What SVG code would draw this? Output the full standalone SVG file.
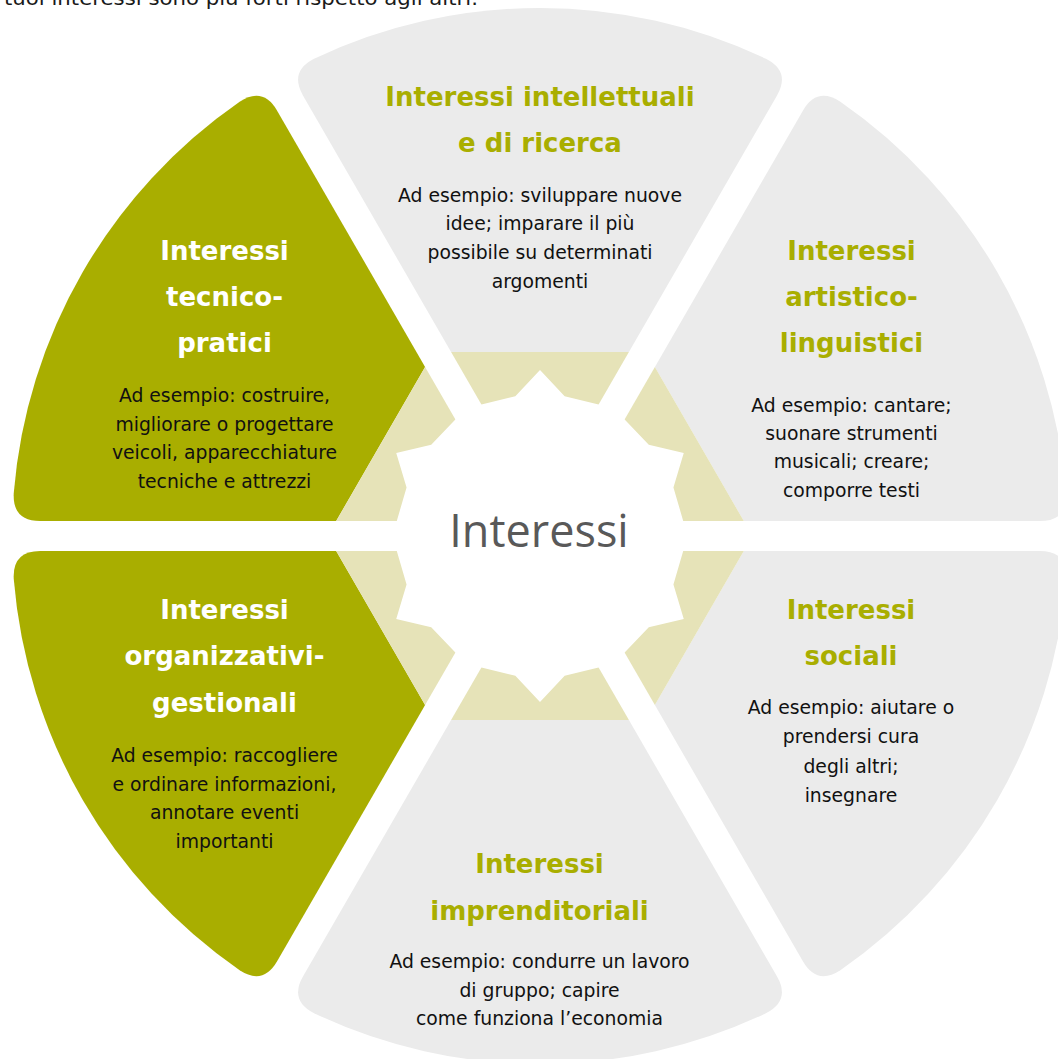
<svg xmlns="http://www.w3.org/2000/svg" xmlns:xlink="http://www.w3.org/1999/xlink" width="1058" height="1059" viewBox="0 0 1058 1059">
<defs>
<style>
.gray{fill:#EBEBEB}
.green{fill:#A9AE00}
.khaki{fill:#E6E3B8}
.title{font-family:"DejaVu Sans",Verdana,sans-serif;font-weight:bold;font-size:26px;text-anchor:middle}
.tg{fill:#A9AE00}
.tw{fill:#FFFFFF}
.body{font-family:"DejaVu Sans",Verdana,sans-serif;font-size:18.8px;text-anchor:middle;fill:#111111}
.hubtext{font-family:"Open Sans","Noto Sans",sans-serif;font-size:45px;text-anchor:middle;fill:#595959}
</style>
<path id="sec" d="M184,88.91 L440.33,236.91 Q464.58,250.91 477.24,225.9 A528,528 0 0 0 477.24,-225.9 Q464.58,-250.91 440.33,-236.91 L184,-88.91 Z"/>
<path id="tri" d="M30,0 L184,88.91 L184,-88.91 Z"/>
</defs>
<rect x="0" y="0" width="1058" height="1059" fill="#FFFFFF"/>
<text x="4" y="5" font-family="'DejaVu Sans',Verdana,sans-serif" font-size="20" fill="#1A1A1A" textLength="474" lengthAdjust="spacingAndGlyphs">tuoi interessi sono più forti rispetto agli altri.</text>

<g id="node-tecnico-pratici">
<use xlink:href="#sec" class="green" transform="translate(540,536) rotate(-150)"/>
<text class="title tw" x="224.5" y="260">Interessi</text>
<text class="title tw" x="224.5" y="306">tecnico-</text>
<text class="title tw" x="224.5" y="351.7">pratici</text>
<text class="body" x="224.5" y="401.7">Ad esempio: costruire,</text>
<text class="body" x="224.5" y="430.7">migliorare o progettare</text>
<text class="body" x="224.5" y="459.3">veicoli, apparecchiature</text>
<text class="body" x="224.5" y="488.3">tecniche e attrezzi</text>
</g>

<g id="node-intellettuali">
<use xlink:href="#sec" class="gray" transform="translate(540,536) rotate(-90)"/>
<text class="title tg" x="540" y="105.7">Interessi intellettuali</text>
<text class="title tg" x="540" y="151.7">e di ricerca</text>
<text class="body" x="540" y="201.7">Ad esempio: sviluppare nuove</text>
<text class="body" x="540" y="230">idee; imparare il più</text>
<text class="body" x="540" y="259">possibile su determinati</text>
<text class="body" x="540" y="288.3">argomenti</text>
</g>

<g id="node-artistico-linguistici">
<use xlink:href="#sec" class="gray" transform="translate(540,536) rotate(-30)"/>
<text class="title tg" x="851.5" y="260">Interessi</text>
<text class="title tg" x="851.5" y="305.5">artistico-</text>
<text class="title tg" x="851.5" y="351.7">linguistici</text>
<text class="body" x="851.5" y="411.7">Ad esempio: cantare;</text>
<text class="body" x="851.5" y="440">suonare strumenti</text>
<text class="body" x="851.5" y="468.3">musicali; creare;</text>
<text class="body" x="851.5" y="496.7">comporre testi</text>
</g>

<g id="node-sociali">
<use xlink:href="#sec" class="gray" transform="translate(540,536) rotate(30)"/>
<text class="title tg" x="851" y="619.3">Interessi</text>
<text class="title tg" x="851" y="665">sociali</text>
<text class="body" x="851" y="714.3">Ad esempio: aiutare o</text>
<text class="body" x="851" y="743.3">prendersi cura</text>
<text class="body" x="851" y="772.7">degli altri;</text>
<text class="body" x="851" y="801.7">insegnare</text>
</g>

<g id="node-imprenditoriali">
<use xlink:href="#sec" class="gray" transform="translate(540,536) rotate(90)"/>
<text class="title tg" x="539.5" y="873.3">Interessi</text>
<text class="title tg" x="539.5" y="920">imprenditoriali</text>
<text class="body" x="539.5" y="968.3">Ad esempio: condurre un lavoro</text>
<text class="body" x="539.5" y="996.7">di gruppo; capire</text>
<text class="body" x="539.5" y="1025">come funziona l’economia</text>
</g>

<g id="node-organizzativi-gestionali">
<use xlink:href="#sec" class="green" transform="translate(540,536) rotate(150)"/>
<text class="title tw" x="224.5" y="619.3">Interessi</text>
<text class="title tw" x="224.5" y="665">organizzativi-</text>
<text class="title tw" x="224.5" y="711.7">gestionali</text>
<text class="body" x="224.5" y="761.7">Ad esempio: raccogliere</text>
<text class="body" x="224.5" y="790.7">e ordinare informazioni,</text>
<text class="body" x="224.5" y="819.3">annotare eventi</text>
<text class="body" x="224.5" y="848.3">importanti</text>
</g>

<g id="node-interessi">
<g class="khaki">
<use xlink:href="#tri" transform="translate(540,536) rotate(-90)"/>
<use xlink:href="#tri" transform="translate(540,536) rotate(-150)"/>
<use xlink:href="#tri" transform="translate(540,536) rotate(150)"/>
<use xlink:href="#tri" transform="translate(540,536) rotate(90)"/>
<use xlink:href="#tri" transform="translate(540,536) rotate(30)"/>
<use xlink:href="#tri" transform="translate(540,536) rotate(-30)"/>
</g>
<polygon fill="#FFFFFF" points="540,370 515.35,396.16 481.43,404.45 466.5,408.7 455.36,419.5 431.22,444.72 396.24,453 406.56,487.44 396.79,520.95 393,536 396.79,551.05 406.56,584.56 396.24,619 431.22,627.28 455.36,652.5 466.5,663.3 481.43,667.55 515.35,675.84 540,702 564.65,675.84 598.57,667.55 613.5,663.3 624.64,652.5 648.78,627.28 683.76,619 673.44,584.56 683.21,551.05 687,536 683.21,520.95 673.44,487.44 683.76,453 648.78,444.72 624.64,419.5 613.5,408.7 598.57,404.45 564.65,396.16"/>
<text class="hubtext" x="539" y="547">Interessi</text>
</g>
</svg>
